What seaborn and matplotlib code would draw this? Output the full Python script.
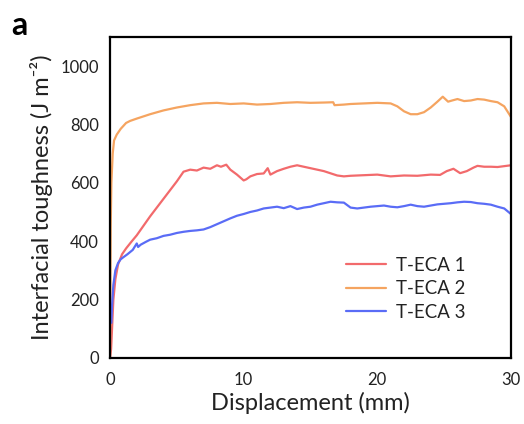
import matplotlib
matplotlib.use("Agg")
import matplotlib.pyplot as plt
import seaborn as sns
import pandas as pd

# Peel test curves: displacement (mm) vs interfacial toughness (J m^-2)
x_eca1 = [0, 0.08, 0.15, 0.25, 0.4, 0.6, 0.9, 1.2, 1.6, 2, 3, 4, 5, 5.5, 6, 6.5, 7, 7.5,
          8, 8.3, 8.7, 9, 9.5, 10, 10.2, 10.5, 11, 11.5, 11.8, 12, 12.5, 13, 13.5, 14,
          14.5, 15, 16, 17, 17.5, 18, 19, 20, 21, 22, 23, 24, 24.7, 25.2, 25.7, 26.2,
          26.7, 27.2, 27.5, 28, 28.5, 29, 29.5, 30]
y_eca1 = [0, 30, 100, 200, 270, 320, 355, 375, 398, 420, 485, 545, 605, 638, 645, 642,
          652, 648, 660, 655, 662, 645, 628, 608, 612, 622, 630, 632, 650, 628, 640, 648,
          655, 660, 655, 650, 640, 625, 622, 624, 626, 628, 622, 625, 624, 628, 627, 640,
          648, 633, 640, 652, 658, 655, 655, 654, 657, 660]

x_eca2 = [0, 0.05, 0.1, 0.2, 0.3, 0.5, 0.8, 1.2, 1.5, 2, 3, 4, 5, 6, 7, 8, 9, 10, 11, 12,
          13, 14, 15, 16, 16.7, 16.8, 17.5, 18, 19, 20, 21, 21.5, 22, 22.5, 23, 23.5, 24,
          24.5, 24.9, 25.3, 25.6, 26, 26.5, 27, 27.5, 28, 28.5, 29, 29.5, 30]
y_eca2 = [0, 450, 600, 700, 745, 765, 785, 805, 812, 820, 835, 848, 858, 866, 872, 874,
          870, 872, 868, 870, 874, 876, 874, 875, 876, 866, 868, 870, 872, 874, 872, 862,
          845, 835, 835, 842, 858, 878, 895, 878, 882, 887, 880, 882, 887, 885, 880, 876,
          862, 826]

x_eca3 = [0.1, 0.15, 0.25, 0.4, 0.6, 0.8, 1.0, 1.3, 1.7, 2.0, 2.1, 2.3, 2.7, 3, 3.5, 4,
          4.5, 5, 5.5, 6, 6.5, 7, 7.5, 8, 8.5, 9, 9.5, 10, 10.5, 11, 11.5, 12, 12.5, 13,
          13.5, 14, 14.5, 15, 15.5, 16, 16.5, 17, 17.5, 18, 18.5, 19, 19.5, 20, 20.5, 21,
          21.5, 22, 22.5, 23, 23.5, 24, 24.5, 25, 25.5, 26, 26.5, 27, 27.5, 28, 28.5, 29,
          29.5, 30]
y_eca3 = [120, 180, 250, 300, 325, 338, 345, 355, 370, 392, 380, 388, 398, 405, 410, 418,
          422, 428, 432, 435, 437, 440, 448, 458, 468, 478, 487, 493, 500, 505, 512, 515,
          518, 513, 520, 510, 515, 518, 525, 530, 535, 533, 532, 515, 512, 515, 518, 520,
          522, 518, 516, 520, 525, 520, 518, 522, 526, 528, 530, 533, 535, 534, 530, 528,
          525, 518, 512, 493]

series_names = ["T-ECA 1", "T-ECA 2", "T-ECA 3"]
series_colors = ["#f26a6c", "#f5a460", "#5a6cf6"]

frames = []
for name, xs, ys in zip(series_names, [x_eca1, x_eca2, x_eca3], [y_eca1, y_eca2, y_eca3]):
    frames.append(pd.DataFrame({"Displacement": xs, "Toughness": ys, "Sample": name}))
df = pd.concat(frames, ignore_index=True)

sns.set_theme(style="white")
plt.rcParams["font.family"] = ["Lato", "DejaVu Sans"]

fig = plt.figure(figsize=(5.24, 4.24), dpi=100)
ax = fig.add_axes([0.21, 0.156, 0.765, 0.757])

sns.lineplot(data=df, x="Displacement", y="Toughness", hue="Sample",
             palette=dict(zip(series_names, series_colors)), estimator=None,
             sort=False, linewidth=1.6, ax=ax)

ax.set_xlim(0, 30)
ax.set_ylim(0, 1100)
ax.set_xticks([0, 10, 20, 30])
ax.set_yticks([0, 200, 400, 600, 800, 1000])
ax.tick_params(axis="both", direction="in", length=7, width=1.4, labelsize=12,
               colors="black", labelcolor="#222222", pad=8)
ax.tick_params(axis="x", pad=10)
for sp in ax.spines.values():
    sp.set_linewidth(1.6)
    sp.set_color("black")

ax.set_xlabel("Displacement (mm)", fontsize=17, color="#222222", labelpad=3)
ax.set_ylabel("Interfacial toughness (J m\u207b\u00b2)", fontsize=17, color="#222222", labelpad=5)

leg = ax.legend(loc="upper left", bbox_to_anchor=(0.555, 0.355), frameon=False,
                fontsize=13.4, handlelength=2.15, handletextpad=0.55, labelspacing=0.35,
                borderpad=0.2)
for t in leg.get_texts():
    t.set_color("#222222")

fig.text(0.022, 0.917, "a", fontsize=23, fontweight="bold", color="black")

fig.savefig("out.png", dpi=100)
